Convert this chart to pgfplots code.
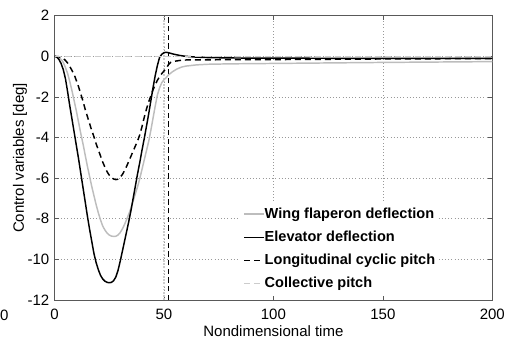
\documentclass[border=0pt]{standalone}
\usepackage{pgfplots}
\pgfplotsset{compat=1.18}
\usepackage{fontspec}
\setmainfont{Liberation Sans}
\definecolor{wing}{gray}{0.74}
\definecolor{coll}{gray}{0.80}
\definecolor{frame}{gray}{0.35}
\begin{document}
\fontsize{11.25}{13.5}\selectfont
\begin{tikzpicture}
\begin{axis}[
  scale only axis, width=328.35pt, height=213.2pt,
  xmin=0, xmax=200, ymin=-12, ymax=2,
  xtick={0,50,100,150,200}, ytick={-12,-10,-8,-6,-4,-2,0,2},
  tick align=inside, tick pos=both, major tick length=3pt,
  axis line style={frame, line width=0.5pt},
  every tick/.style={frame, line width=0.5pt},
  grid=major, grid style={black!40, dotted, line width=0.45pt},
  /pgf/number format/assume math mode=true,
  ticklabel style={font=\fontsize{11.25}{13.5}\selectfont},
  xticklabel style={yshift=-3pt},
  xlabel={Nondimensional time}, ylabel={Control variables [deg]},
  label style={font=\fontsize{11.25}{13.5}\selectfont},
  xlabel style={at={(axis description cs:0.5,-0.127)}, anchor=base},
  ylabel style={at={(axis description cs:-0.0697,0.5)}, anchor=base},
  legend style={at={(axis description cs:0.4237,0.342)}, anchor=north west,
    draw=none, fill=white, font=\bfseries\fontsize{10.9}{13}\selectfont,
    row sep=6.6pt, inner xsep=2.25pt, inner ysep=3pt, column sep=0pt,
    nodes={inner sep=0pt, text height=8.3pt, text depth=2.4pt, anchor=west}},
  legend cell align=left,
  legend image code/.code={\draw[#1] (0pt,0pt) -- (15pt,0pt);},
]
\addplot[coll, line width=0.9pt, dash pattern=on 1.2pt off 1.2pt, forget plot] coordinates {(50,-12) (50,2)};
\addplot[black, line width=0.8pt, dash pattern=on 4pt off 2.5pt, forget plot] coordinates {(52,-12) (52,2)};

\addplot[wing, line width=1.1pt] coordinates {
(0,0) (2,-0.05) (3,-0.15) (4,-0.3) (5,-0.55) (6,-0.85) (7,-1.25) (8,-1.7) (9,-2.2) (10,-2.7) (11,-3.25) (12,-3.8) (13,-4.3) (14,-4.85) (15,-5.4) (16,-5.9) (17,-6.4) (18,-6.85) (19,-7.3) (20,-7.7) (21,-8.05) (22,-8.35) (23,-8.55) (24,-8.7) (25,-8.8) (26,-8.85) (27,-8.87) (28,-8.86) (29,-8.8) (30,-8.68) (31,-8.5) (32,-8.28) (33,-8.02) (34,-7.75) (35,-7.45) (36,-7.1) (37,-6.75) (38,-6.4) (39,-6.0) (40,-5.55) (41,-5.1) (42,-4.65) (43,-4.2) (44,-3.65) (45,-3.05) (46,-2.45) (47,-1.9) (48,-1.55) (49,-1.3) (50,-1.15) (51,-1.05) (52,-0.92) (54,-0.75) (56,-0.62) (58,-0.53) (60,-0.48) (65,-0.42) (70,-0.39) (80,-0.37) (100,-0.35) (150,-0.3) (200,-0.26)};
\addlegendentry{Wing flaperon deflection}

\addplot[black, line width=1.1pt] coordinates {
(0,0) (1,-0.03) (2,-0.15) (3,-0.35) (4,-0.65) (5,-1.1) (6,-1.75) (7,-2.45) (8,-3.1) (9,-3.75) (10,-4.4) (11,-5.05) (12,-5.75) (13,-6.45) (14,-7.15) (15,-7.85) (16,-8.5) (17,-9.1) (18,-9.7) (19,-10.15) (20,-10.5) (21,-10.78) (22,-10.96) (23,-11.07) (24,-11.13) (25,-11.15) (26,-11.13) (27,-11.05) (28,-10.87) (29,-10.55) (30,-10.1) (31,-9.6) (32,-9.1) (33,-8.6) (34,-8.1) (35,-7.55) (36,-6.95) (37,-6.35) (38,-5.75) (39,-5.2) (40,-4.6) (41,-4.05) (42,-3.45) (43,-2.85) (44,-2.2) (45,-1.55) (46,-0.95) (47,-0.45) (48,-0.05) (49,0.1) (50,0.18) (51,0.2) (52,0.18) (54,0.12) (56,0.07) (58,0.03) (60,0.0) (65,-0.04) (70,-0.06) (80,-0.08) (100,-0.09) (150,-0.1) (200,-0.1)};
\addlegendentry{Elevator deflection}

\addplot[black, line width=1.1pt, dash pattern=on 4.5pt off 3pt] coordinates {
(0,0) (2,-0.02) (4,-0.1) (5,-0.2) (6,-0.33) (7,-0.5) (8,-0.7) (9,-0.9) (10,-1.2) (11,-1.5) (12,-1.85) (13,-2.2) (14,-2.6) (15,-2.95) (16,-3.3) (17,-3.65) (18,-3.95) (19,-4.3) (20,-4.6) (21,-4.9) (22,-5.2) (23,-5.45) (24,-5.68) (25,-5.85) (26,-5.97) (27,-6.04) (28,-6.07) (29,-6.05) (30,-5.96) (31,-5.82) (32,-5.63) (33,-5.4) (34,-5.15) (35,-4.9) (36,-4.65) (37,-4.4) (38,-4.15) (39,-3.85) (40,-3.45) (41,-3.0) (42,-2.6) (43,-2.25) (44,-1.95) (45,-1.65) (46,-1.4) (47,-1.18) (48,-1.0) (49,-0.85) (50,-0.72) (51,-0.6) (52,-0.42) (53,-0.3) (55,-0.24) (58,-0.19) (62,-0.17) (70,-0.17) (100,-0.16) (150,-0.13) (200,-0.11)};
\addlegendentry{Longitudinal cyclic pitch}

\addplot[coll, line width=1.1pt, dash pattern=on 4.5pt off 3pt] coordinates {(0,0) (50,0) (100,0) (150,0) (200,0)};
\addlegendentry{Collective pitch}
\end{axis}
\node[anchor=base, font=\fontsize{11.25}{13.5}\selectfont] at ([shift={(-37.6pt,-15pt)}]current axis.south west) {0};
\pgfresetboundingbox
\path[use as bounding box] ([shift={(-40.875pt,-28.5pt)}]current axis.south west) rectangle ([shift={(12.5pt,11.8pt)}]current axis.north east);
\end{tikzpicture}
\end{document}
